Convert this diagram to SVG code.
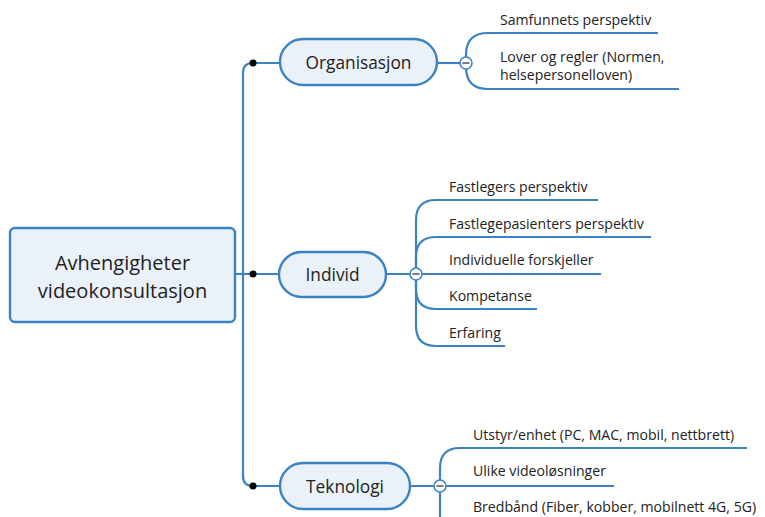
<svg xmlns="http://www.w3.org/2000/svg" width="765" height="517" viewBox="0 0 765 517">
<style>
.ln{fill:none;stroke:#3a82c4;stroke-width:2.2;stroke-linecap:butt}
.pill{fill:#eaf1f9;stroke:#3a82c4;stroke-width:2.4}
.root{fill:#eaf1f9;stroke:#3a82c4;stroke-width:2.4}
.t{font-family:"Open Sans","Noto Sans",sans-serif;fill:#222}
.rt{font-size:20px;text-anchor:middle}
.mt{font-size:17.3px;text-anchor:middle}
.ct{font-size:14.1px}
.dot{fill:#000}
.tog{fill:#fff;stroke:#3a82c4;stroke-width:1.5}
.minus{stroke:#333;stroke-width:1.3}
</style>
<rect width="765" height="517" fill="#fff"/>
<g id="connectors">
<path class="ln" d="M280,63 H253 Q243,63 243,73 V476 Q243,486 253,486 H280"/>
<path class="ln" d="M235,274 H279"/>
<path class="ln" d="M437,63 H466"/>
<path class="ln" d="M466,63 V55 Q466,33 488,33 H658"/>
<path class="ln" d="M466,63 V67 Q466,89 488,89 H679"/>
<path class="ln" d="M386,274 H601"/>
<path class="ln" d="M416,274 V220 Q416,200 436,200 H598"/>
<path class="ln" d="M416,274 V257 Q416,237 436,237 H651"/>
<path class="ln" d="M416,274 V289 Q416,309 436,309 H537"/>
<path class="ln" d="M416,274 V326 Q416,346 436,346 H505"/>
<path class="ln" d="M410,486 H440 H614"/>
<path class="ln" d="M440,486 V468 Q440,448 460,448 H747"/>
<path class="ln" d="M440,486 V530"/>
<circle class="dot" cx="253" cy="63" r="3.5"/>
<circle class="dot" cx="253" cy="274" r="3.5"/>
<circle class="dot" cx="253" cy="486" r="3.5"/>
<circle class="tog" cx="466" cy="63" r="6"/>
<line class="minus" x1="462.5" y1="63" x2="469.5" y2="63"/>
<circle class="tog" cx="416" cy="274" r="6"/>
<line class="minus" x1="412.5" y1="274" x2="419.5" y2="274"/>
<circle class="tog" cx="440" cy="486" r="6"/>
<line class="minus" x1="436.5" y1="486" x2="443.5" y2="486"/>
</g>
<g id="root">
<rect class="root" x="10" y="228" width="225" height="94" rx="5"/>
<text class="t rt" x="122.5" y="270">Avhengigheter</text>
<text class="t rt" x="122.5" y="298">videokonsultasjon</text>
</g>
<g id="organisasjon">
<rect class="pill" x="280" y="39" width="157" height="46" rx="23"/>
<text class="t mt" x="358.5" y="68.5">Organisasjon</text>
</g>
<g id="individ">
<rect class="pill" x="279" y="252" width="107" height="45" rx="22.5"/>
<text class="t mt" x="332.5" y="280.5">Individ</text>
</g>
<g id="teknologi">
<rect class="pill" x="280" y="463" width="130" height="46" rx="23"/>
<text class="t mt" x="345" y="492.5">Teknologi</text>
</g>
<g id="org-children">
<text class="t ct" x="500" y="25">Samfunnets perspektiv</text>
<text class="t ct" x="500" y="62">Lover og regler (Normen,</text>
<text class="t ct" x="500" y="80">helsepersonelloven)</text>
</g>
<g id="ind-children">
<text class="t ct" x="449" y="192">Fastlegers perspektiv</text>
<text class="t ct" x="449" y="229">Fastlegepasienters perspektiv</text>
<text class="t ct" x="449" y="265">Individuelle forskjeller</text>
<text class="t ct" x="449" y="301">Kompetanse</text>
<text class="t ct" x="449" y="338">Erfaring</text>
</g>
<g id="tek-children">
<text class="t ct" x="473" y="440">Utstyr/enhet (PC, MAC, mobil, nettbrett)</text>
<text class="t ct" x="473" y="476">Ulike videoløsninger</text>
<text class="t ct" x="473" y="512">Bredbånd (Fiber, kobber, mobilnett 4G, 5G)</text>
</g>
</svg>
